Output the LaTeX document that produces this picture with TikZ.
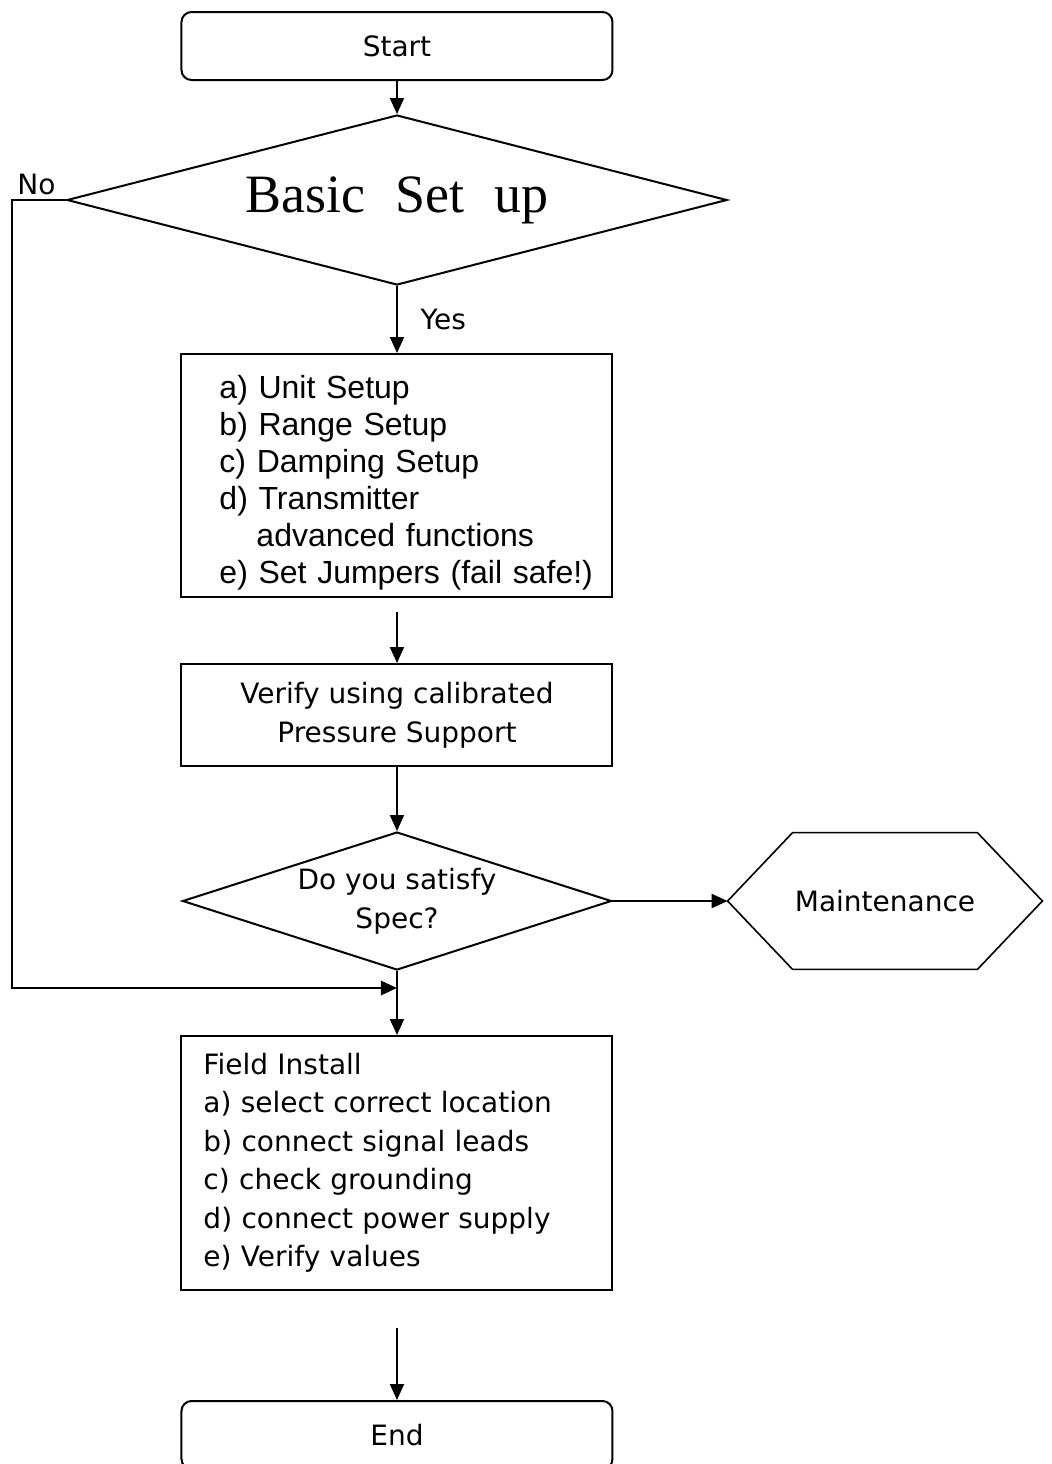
\documentclass[tikz,border=0pt]{standalone}
\usepackage{fontspec}
\setmainfont{DejaVu Sans}
\newfontfamily\arialfont{Liberation Sans}
\newfontfamily\titlefont{Liberation Serif}
\usetikzlibrary{shapes,arrows.meta,positioning}
\tikzstyle{block} = [rectangle, draw, line width=1pt, minimum width=215.5pt,
    font=\fontsize{14}{19.25}\selectfont]
\tikzstyle{terminal} = [block, rounded corners=5pt, minimum height=34pt]
\tikzstyle{decision} = [diamond, draw, line width=1pt, inner sep=0pt,
    font=\fontsize{14}{19.5}\selectfont]
\tikzstyle{tag} = [font=\fontsize{14}{17}\selectfont]
\tikzstyle{line} = [draw, line width=1pt, -{Triangle[length=8pt, width=7pt]}]

\begin{document}
\begin{tikzpicture}
		\useasboundingbox (-198.5pt,23pt) rectangle (327.5pt,-709pt);
		% Draw nodes
		\node [terminal] (start) {Start};
		\node [decision, below of=start, node distance=77pt, minimum width=330pt,
			minimum height=85pt, aspect=3.9,
			font=\titlefont\fontsize{27}{30}\selectfont] (basic) {Basic\hspace{15pt}Set\hspace{15pt}up};
		\node [block, below of=basic, node distance=137.75pt, minimum height=121.5pt,
			inner xsep=19pt, inner ysep=0pt, text width=177.5pt, align=left,
			font=\arialfont\fontsize{16}{18.5}\selectfont] (setup)
			{\rule{0pt}{18.5pt}a) Unit Setup\\ b) Range Setup\\ c) Damping Setup\\ d) Transmitter\\
			\hspace*{18.5pt}advanced functions\\ \mbox{e) Set Jumpers (fail safe!)}};
		\coordinate [below of=setup, node distance=68.25pt] (setupout);
		\node [block, below of=setup, node distance=119.75pt, minimum height=51pt,
			align=center, font=\fontsize{14}{19.5}\selectfont] (verify)
			{Verify using calibrated\\ Pressure Support};
		\node [decision, below of=verify, node distance=93pt, minimum width=214.5pt,
			minimum height=69pt, aspect=3.1, align=center] (spec) {Do you satisfy\\ Spec?};
		\node [tag, right of=spec, node distance=244pt, minimum width=157pt,
			minimum height=68pt] (maint) {Maintenance};
		\coordinate [below of=spec, node distance=43.5pt] (join);
		\node [block, below of=spec, node distance=131pt, minimum height=127pt,
			inner xsep=11pt, text width=193.5pt, align=left] (field)
			{Field Install\\ a) select correct location\\ b) connect signal leads\\
			c) check grounding\\ d) connect power supply\\ e) Verify values};
		\coordinate [below of=field, node distance=82.5pt] (fieldout);
		\node [terminal, below of=field, node distance=136pt] (stop) {End};
		% hexagon round maintenance
		\draw [line width=0.8pt] (maint.west) -- ([xshift=32.5pt]maint.north west)
			-- ([xshift=-32.5pt]maint.north east) -- (maint.east)
			-- ([xshift=-32.5pt]maint.south east) -- ([xshift=32.5pt]maint.south west) -- cycle;
		% Draw lines connecting (arrows)
		\path [line] (start) -- (basic);
		\path [line] (basic) -- node [tag, midway, right=8pt] {Yes} (setup);
		\path [line] (setupout) -- (verify);
		\path [line] (verify) -- (spec);
		\path [line] (spec) -- (maint);
		\path [line] (spec) -- (field);
		\path [line, line width=1.4pt] (basic.west) -- ++(-27pt,0) node [tag, above right, inner sep=2pt] {No} |- (join);
		\path [line] (fieldout) -- (stop);
	\end{tikzpicture}
\end{document}
